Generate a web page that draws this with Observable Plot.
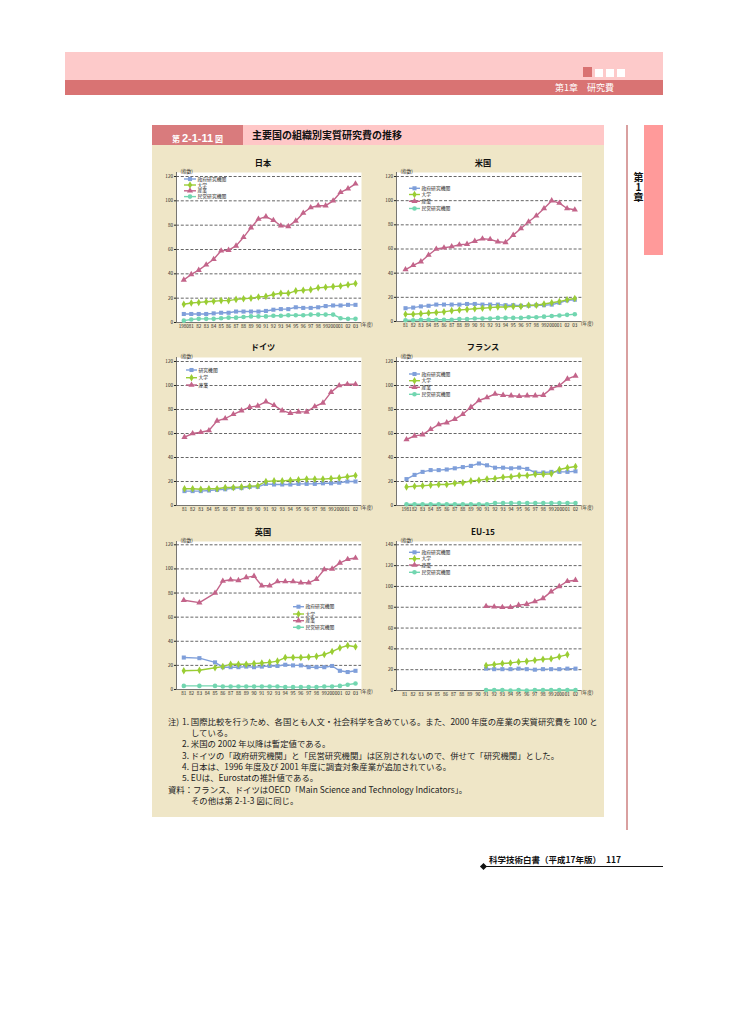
<!DOCTYPE html>
<html><head><meta charset="utf-8">
<script src="https://cdn.jsdelivr.net/npm/d3@7"></script>
<script src="https://cdn.jsdelivr.net/npm/@observablehq/plot@0.6"></script>
<style>
html,body{margin:0;padding:0;background:#fff;}
#page{position:relative;width:729px;height:1032px;overflow:hidden;font-family:"Noto Sans CJK JP","Noto Sans",sans-serif;color:#111;}
.a{position:absolute;white-space:nowrap;}
.note{position:absolute;white-space:nowrap;font-size:8.4px;line-height:10px;color:#222;}
.ctitle{position:absolute;font-size:8.2px;font-weight:bold;transform:translate(-50%,-50%);white-space:nowrap;color:#111;}
</style></head><body><div id="page">
<div class="a" style="left:65px;top:52px;width:598px;height:28px;background:#fdcaca;"></div>
<div class="a" style="left:583px;top:67px;width:9px;height:10px;background:#d97272;"></div>
<div class="a" style="left:595px;top:69px;width:8px;height:8px;background:#fff;"></div>
<div class="a" style="left:606px;top:69px;width:8px;height:8px;background:#fff;"></div>
<div class="a" style="left:617px;top:69px;width:8px;height:8px;background:#fff;"></div>
<div class="a" style="left:65px;top:80px;width:598px;height:15px;background:#d97373;"></div>
<div class="a" style="left:555px;top:81px;font-size:9px;line-height:13px;color:#fff;">第1章　研究費</div>

<div class="a" style="left:626px;top:125px;width:2px;height:705px;background:#d9a0a0;"></div>
<div class="a" style="left:644px;top:125px;width:19px;height:130px;background:#ff9a9a;"></div>
<div class="a" style="left:632px;top:172px;font-size:10px;font-weight:bold;writing-mode:vertical-rl;text-orientation:upright;line-height:12px;">第1章</div>

<div class="a" style="left:152px;top:145px;width:452px;height:672px;background:#efe6c7;"></div>
<div class="a" style="left:152px;top:125px;width:91px;height:20px;background:#d97b7d;color:#fff;font-weight:bold;line-height:20px;text-align:center;"><span style="font-size:8px;">第 </span><span style="font-size:11px;font-family:'Liberation Sans',Arial,sans-serif;">2-1-11</span><span style="font-size:8px;"> 図</span></div>
<div class="a" style="left:243px;top:125px;width:361px;height:20px;background:#ffc7c7;"></div>
<div class="a" style="left:252px;top:125px;font-size:10px;font-weight:bold;line-height:20px;">主要国の組織別実質研究費の推移</div>

<div class="ctitle" style="left:263px;top:162px;">日本</div>
<div class="ctitle" style="left:483px;top:162px;">米国</div>
<div class="ctitle" style="left:263px;top:346px;">ドイツ</div>
<div class="ctitle" style="left:483px;top:346px;">フランス</div>
<div class="ctitle" style="left:263px;top:531px;">英国</div>
<div class="ctitle" style="left:483px;top:531px;">EU-15</div>

<div class="note" style="left:168px;top:716px;">注)</div>
<div class="note" style="left:182px;top:716px;">1. 国際比較を行うため、各国とも人文・社会科学を含めている。また、2000 年度の産業の実質研究費を 100 と</div>
<div class="note" style="left:191px;top:727px;">している。</div>
<div class="note" style="left:182px;top:738px;">2. 米国の 2002 年以降は暫定値である。</div>
<div class="note" style="left:182px;top:750px;">3. ドイツの「政府研究機関」と「民営研究機関」は区別されないので、併せて「研究機関」とした。</div>
<div class="note" style="left:182px;top:761px;">4. 日本は、1996 年度及び 2001 年度に調査対象産業が追加されている。</div>
<div class="note" style="left:182px;top:772px;">5. EUは、Eurostatの推計値である。</div>
<div class="note" style="left:168px;top:784px;">資料：</div>
<div class="note" style="left:193px;top:784px;">フランス、ドイツはOECD「Main Science and Technology Indicators」。</div>
<div class="note" style="left:191px;top:795px;">その他は第 2-1-3 図に同じ。</div>

<div class="a" style="left:484px;top:866px;width:179px;height:1.3px;background:#111;"></div>
<div class="a" style="left:481px;top:864px;width:5px;height:5px;background:#111;transform:rotate(45deg);"></div>
<div class="a" style="left:489px;top:854px;font-size:8.5px;font-weight:bold;line-height:11px;">科学技術白書（平成17年版）<span style="margin-left:5px;">117</span></div>
</div>
<script>
// ---- data ----
const stdNames = ["政府研究機関", "大学", "産業", "民営研究機関"];
const deNames = ["研究機関", "大学", "産業"];
const stdColors = ["#7f9fda", "#9acd34", "#c3648a", "#72d6b0"];
const stdSymbols = ["square", "diamond", "triangle", "circle"];

const jpYears = d3.range(1980, 2004);
const jpGov = [7,7,7,7,7.5,8,8,9,9,9,9,9.5,10.5,11,11,12.5,12,12,12.5,13.5,14,14,14.5,14.5];
const jpUni = [15,16,16.5,17,17.5,18,18,19,19.5,20,21,21.5,23,24,24,26,26.5,27,28.5,29,29.5,30,31,32];
const jpInd = [35,39.5,43,47.5,52,59,59.5,63,70,78,85,87,84,79.5,79,83.5,90,94.5,96,96,100,107,110,114];
const jpPri = [1.5,2.5,3,3,3,3.5,4,4,4.5,5,5,5,5.5,5.5,6,6,6,6.5,6.5,6.5,6.5,3.5,3,3];

const usYears = d3.range(1981, 2004);
const usGov = [11,11.5,12.5,13,14,14,14,14,14.5,14.5,14,14,14,13.5,13.5,13,13,13.5,13.5,14,15.5,17.5,18];
const usUni = [6,6,6.5,7,7.5,8,9,9.5,10,10.5,11,11.5,12,12,12.5,12.5,13.5,13.5,14.5,15.5,16.5,18,19];
const usInd = [43,46.5,49.5,55,60,61,62,63.5,64,66.5,68.5,68,66,65.5,71.5,77,82.5,87.5,93.5,100,98,93.5,92.5];
const usPri = [1,1,1.5,1.5,1.5,1.5,1.5,2,2,2.5,2.5,2.5,3,3,3,3,3.5,3.5,4,4.5,5,5.5,6];

const deYears = d3.range(1981, 2003);
const deRes = [12,12,12,12.5,13,13.5,14.5,14.5,15.5,15.5,18,17.5,17.5,17.5,18,18,18,18.5,18.5,19,20,20];
const deUni = [14,14,13.5,14,14,15,15,15.5,16,16.5,20,20.5,20.5,21,21.5,22,22,22,22.5,23,24,25];
const deInd = [57,60,61,62.5,70.5,72.5,76,79,82,83,86.5,83.5,79,77,78,78,82.5,85.5,94.5,100,101,101];

const frYears = d3.range(1981, 2003);
const frGov = [22,25.5,28,29.5,29.5,30,31,32,33,35,33.5,31.5,31.5,31,31.5,30.5,27.5,27.5,28,28,28,28.5];
const frUni = [15.5,16,16.5,17,17.5,17.5,18.5,19,20.5,21,22,22.5,23.5,24,25,25,26,26,26.5,30,31.5,32.5];
const frInd = [55,58,59,63.5,67.5,69,72,76,82,87.5,90,93,92,91.5,91,91.5,91.5,92,97.5,100,105.5,108];
const frPri = [1,1,1,1,1,1,1,1,1,1,1,2,2,2,2,2,2,2,2,2,2,2];

const ukTickYears = d3.range(1981, 2004);
const ukYears = [1981,1983,1985,1986,1987,1988,1989,1990,1991,1992,1993,1994,1995,1996,1997,1998,1999,2000,2001,2002,2003];
const ukGov = [26.5,26,22.5,18.5,18.5,18.5,19,18.5,19,19.5,19.5,20.5,20,20,18.5,18.5,18.5,19.5,15.5,14.5,15.5];
const ukUni = [15.5,16,18,19,21,21,21,21.5,22,22.5,23.5,26.5,26.5,26.5,27,27.5,29,31.5,34.5,36.5,35.5];
const ukInd = [74,72,80,90,91,90.5,93,94,86,86,89.5,89.5,89.5,88.5,88.5,91.5,99.5,100,105,108,109];
const ukPri = [3,3,3,2.5,2.5,2.5,2.5,2.5,2.5,2.5,2.5,2,2,2,2,2,2.5,2.5,3,4,5];

const euTickYears = d3.range(1981, 2003);
const euYears = d3.range(1991, 2003);
const euUniYears = d3.range(1991, 2002);
const euGov = [21,20.5,20.5,20.5,21,20.5,20,20.5,20.5,20.5,21,21];
const euUni = [24,25,26,26.5,27.5,28,29,30,30.5,32.5,34.5];
const euInd = [81,80.5,80,80,82,83,85.5,88.5,95,100,105,106];
const euPri = [0.5,0.5,0.5,0,0.5,0,0.5,0.5,0.5,0.5,0.5,0.5];

const yUnit = "(指数)";
const xUnit = "(年度)";

// ---- helpers ----
const page = document.getElementById("page");
function yearLabel(first) {
  return (d) => (d === first || d === 2000) ? String(d) : String(d).slice(2);
}
function makeChart(c) {
  const ml = 24, mr = 22, mt = 14, mb = 12;
  const rows = [];
  c.series.forEach(s => s.values.forEach((v, i) => rows.push({year: s.years[i], value: v, series: s.name})));
  const yTicks = d3.range(0, c.yMax + 1, 20);
  const x0 = c.xTicks[0], x1 = c.xTicks[c.xTicks.length - 1];
  const insetL = c.xFirst - c.plotL;
  const svg = Plot.plot({
    width: (c.plotR - c.plotL) + ml + mr,
    height: (c.plotB - c.plotT) + mt + mb,
    marginLeft: ml, marginRight: mr, marginTop: mt, marginBottom: mb,
    style: {background: "transparent", fontSize: "4.6px", fontFamily: "'Noto Sans CJK JP', sans-serif", color: "#222", overflow: "visible"},
    x: {type: "linear", domain: [x0, x1], insetLeft: insetL, insetRight: c.plotR - c.xLast},
    y: {domain: [0, c.yMax], insetTop: c.yTopPx - c.plotT, insetBottom: 0},
    color: {domain: c.names, range: stdColors.slice(0, c.names.length)},
    symbol: {domain: c.names, range: stdSymbols.slice(0, c.names.length)},
    marks: [
      Plot.frame({fill: "#fff", stroke: null}),
      Plot.ruleY(yTicks.filter(d => d > 0), {stroke: "#333", strokeWidth: 0.75, strokeDasharray: "3,1.8"}),
      Plot.ruleY([0], {stroke: "#555", strokeWidth: 0.8}),
      Plot.ruleX([x0], {dx: -insetL, stroke: "#555", strokeWidth: 0.8}),
      Plot.line(rows, {x: "year", y: "value", z: "series", stroke: "series", strokeWidth: 1.4}),
      Plot.dot(rows, {x: "year", y: "value", fill: "series", symbol: "series", r: 2.3, stroke: null}),
      Plot.axisX({ticks: c.xTicks, tickFormat: c.fmt, tickSize: 0, tickPadding: 2, label: null}),
      Plot.axisY({ticks: yTicks, tickSize: 2, tickPadding: 1.5, label: null, tickFormat: d => String(d)}),
      Plot.text([yUnit], {text: d => d, frameAnchor: "top-left", dx: 4, dy: -3, textAnchor: "start"}),
      Plot.text([xUnit], {text: d => d, frameAnchor: "bottom-right", dx: -1, dy: 3, textAnchor: "start"})
    ]
  });
  svg.style.position = "absolute";
  svg.style.left = (c.plotL - ml) + "px";
  svg.style.top = (c.plotT - mt) + "px";
  svg.style.maxWidth = "none";
  page.appendChild(svg);
}
function ser(names, yearsList, valuesList) {
  return names.map((n, i) => ({name: n, years: yearsList[i], values: valuesList[i]}));
}

makeChart({names: stdNames, series: ser(stdNames, [jpYears, jpYears, jpYears, jpYears], [jpGov, jpUni, jpInd, jpPri]),
  xTicks: jpYears, fmt: yearLabel(1980), yMax: 120,
  plotL: 176, plotR: 361, plotT: 172, plotB: 322, xFirst: 183.3, xLast: 355, yTopPx: 176});
makeChart({names: stdNames, series: ser(stdNames, [usYears, usYears, usYears, usYears], [usGov, usUni, usInd, usPri]),
  xTicks: usYears, fmt: yearLabel(0), yMax: 120,
  plotL: 396, plotR: 581.5, plotT: 172, plotB: 321, xFirst: 405, xLast: 574.3, yTopPx: 176});
makeChart({names: deNames, series: ser(deNames, [deYears, deYears, deYears], [deRes, deUni, deInd]),
  xTicks: deYears, fmt: yearLabel(0), yMax: 120,
  plotL: 176, plotR: 361, plotT: 357, plotB: 505, xFirst: 184, xLast: 355, yTopPx: 361});
makeChart({names: stdNames, series: ser(stdNames, [frYears, frYears, frYears, frYears], [frGov, frUni, frInd, frPri]),
  xTicks: frYears, fmt: yearLabel(1981), yMax: 120,
  plotL: 396, plotR: 581.5, plotT: 357, plotB: 505, xFirst: 406, xLast: 575, yTopPx: 361});
makeChart({names: stdNames, series: ser(stdNames, [ukYears, ukYears, ukYears, ukYears], [ukGov, ukUni, ukInd, ukPri]),
  xTicks: ukTickYears, fmt: yearLabel(0), yMax: 120,
  plotL: 176, plotR: 361, plotT: 541, plotB: 689, xFirst: 183.3, xLast: 355, yTopPx: 544.3});
makeChart({names: stdNames, series: ser(stdNames, [euYears, euUniYears, euYears, euYears], [euGov, euUni, euInd, euPri]),
  xTicks: euTickYears, fmt: yearLabel(0), yMax: 140,
  plotL: 396, plotR: 581.5, plotT: 541, plotB: 690, xFirst: 404.3, xLast: 575, yTopPx: 544.3});

// ---- legends (overlay) ----
const ov = d3.select("#page").append("svg")
  .attr("width", 729).attr("height", 1032)
  .style("position", "absolute").style("left", "0px").style("top", "0px")
  .style("pointer-events", "none");
const symMap = {square: d3.symbolSquare, diamond: d3.symbolDiamond, triangle: d3.symbolTriangle, circle: d3.symbolCircle};
function legend(names, segX0, segX1, textX, ys) {
  names.forEach((n, i) => {
    const g = ov.append("g");
    g.append("line").attr("x1", segX0).attr("x2", segX1).attr("y1", ys[i]).attr("y2", ys[i])
      .attr("stroke", stdColors[i]).attr("stroke-width", 1.4);
    g.append("path").attr("transform", `translate(${(segX0 + segX1) / 2},${ys[i]})`)
      .attr("d", d3.symbol(symMap[stdSymbols[i]], Math.PI * 2.3 * 2.3)())
      .attr("fill", stdColors[i]);
    g.append("text").attr("x", textX).attr("y", ys[i]).attr("dy", "0.35em")
      .attr("font-size", "4.8px").attr("font-family", "'Noto Sans CJK JP', sans-serif").attr("fill", "#222")
      .text(n);
  });
}
legend(stdNames, 184, 196, 197.5, [179, 185, 190.8, 196.6]);
legend(stdNames, 409, 420, 421.5, [188.3, 194.5, 201.3, 208.5]);
legend(deNames, 186, 197, 198.5, [370, 377.7, 385]);
legend(stdNames, 409, 420, 421.5, [374, 380.7, 387.3, 394.3]);
legend(stdNames, 293, 304, 305.5, [606.7, 614, 620.7, 627.3]);
legend(stdNames, 409, 420, 421.5, [552.3, 558.7, 565, 572.3]);
</script>
</body></html>
